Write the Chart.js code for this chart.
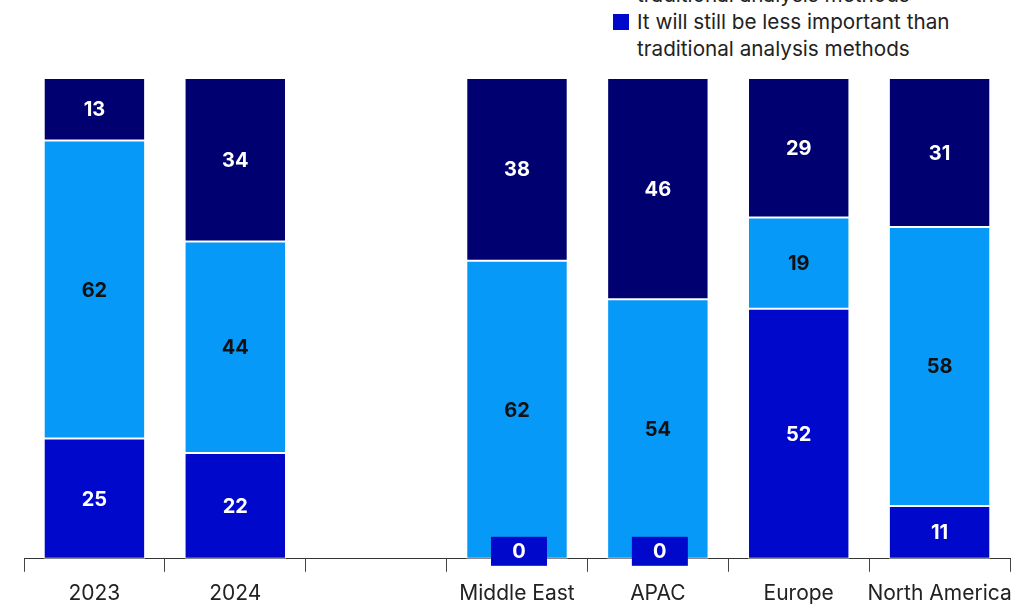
<!DOCTYPE html>
<html>
<head>
<meta charset="utf-8">
<script src="https://cdn.jsdelivr.net/npm/chart.js@4.4.1/dist/chart.umd.min.js"></script>
<style>
  html, body { margin: 0; padding: 0; background: #fff; overflow: hidden; }
  body { width: 1028px; height: 604px; position: relative; font-family: Inter, "Noto Sans", sans-serif; }
  #wrap { position: absolute; left: 0; top: 0; width: 1028px; height: 640px; }
  #legend { position: absolute; left: 613px; top: -100px; color: #222; font-size: 20.7px; line-height: 27px; }
  .item { display: flex; align-items: flex-start; }
  .sw { width: 16px; height: 16px; margin-top: 6px; margin-right: 8px; flex: none; }
  .txt { white-space: pre-line; }
</style>
</head>
<body>
<div id="legend"></div>
<div id="wrap"><canvas id="myChart"></canvas></div>
<script>
var categories = ['2023', '2024', '', 'Middle East', 'APAC', 'Europe', 'North America'];
var lessImportant = [25, 22, null, 0, 0, 52, 11];
var asImportant = [62, 44, null, 62, 54, 19, 58];
var moreImportant = [13, 34, null, 38, 46, 29, 31];

var seriesNames = [
    'It will still be less important than\ntraditional analysis methods',
    'It will be as important as\ntraditional analysis methods',
    'It will be more important than\ntraditional analysis methods'
];
var colors = ['#0008cc', '#0799f8', '#010070'];
var labelColors = ['#fff', '#111', '#fff'];

// legend lists the top segment first
var legend = document.getElementById('legend');
[2, 1, 0].forEach(function (i) {
    var item = document.createElement('div');
    item.className = 'item';
    item.innerHTML = '<div class="sw" style="background:' + colors[i] + '"></div>' +
        '<div class="txt"></div>';
    item.querySelector('.txt').textContent = seriesNames[i];
    legend.appendChild(item);
});

var valueLabels = {
    id: 'valueLabels',
    afterDatasetsDraw: function (chart) {
        var ctx = chart.ctx;
        ctx.save();
        ctx.font = 'bold 20px Inter';
        ctx.textAlign = 'center';
        ctx.textBaseline = 'middle';
        chart.data.datasets.forEach(function (ds, i) {
            var meta = chart.getDatasetMeta(i);
            meta.data.forEach(function (bar, j) {
                var v = ds.data[j];
                if (v === null) return;
                if (v === 0) {
                    // empty segment: small tag sitting on the axis
                    var cx = bar.x + 2;
                    ctx.fillStyle = colors[i];
                    ctx.fillRect(cx - 28, bar.base - 22, 56, 29);
                    ctx.fillStyle = '#fff';
                    ctx.fillText('0', cx, bar.base - 7);
                } else {
                    ctx.fillStyle = labelColors[i];
                    ctx.fillText(String(v), bar.x, (bar.y + bar.base) / 2 + 1);
                }
            });
        });
        ctx.restore();
    }
};

var ctx = document.getElementById('myChart').getContext('2d');
var myChart = new Chart(ctx, {
    type: 'bar',
    data: {
        labels: categories,
        datasets: [lessImportant, asImportant, moreImportant].map(function (d, i) {
            return {
                label: seriesNames[i].replace('\n', ' '),
                data: d,
                backgroundColor: colors[i],
                borderColor: '#fff',
                borderWidth: 1,
                borderSkipped: false,
                categoryPercentage: 1,
                barPercentage: 0.72
            };
        })
    },
    options: {
        responsive: true,
        maintainAspectRatio: false,
        animation: false,
        layout: { padding: { left: 24, right: 18, top: 78, bottom: 25 } },
        plugins: { legend: { display: false }, tooltip: { enabled: false } },
        scales: {
            x: {
                stacked: true,
                grid: { drawOnChartArea: false, drawTicks: true, tickLength: 13, color: '#444', offset: true },
                border: { display: true, color: '#333', width: 1 },
                ticks: { color: '#222', font: { family: 'Inter', size: 21 }, padding: 9, maxRotation: 0, autoSkip: false }
            },
            y: {
                stacked: true,
                display: false,
                min: 0,
                max: 100
            }
        }
    },
    plugins: [valueLabels]
});
</script>
</body>
</html>
